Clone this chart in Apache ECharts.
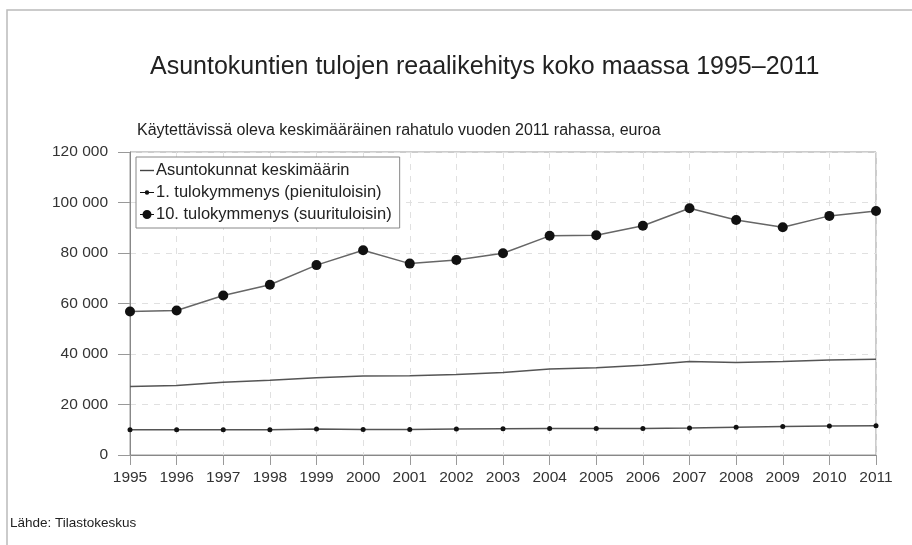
<!DOCTYPE html>
<html>
<head>
<meta charset="utf-8">
<script src="https://cdn.jsdelivr.net/npm/echarts@6/dist/echarts.min.js"></script>
<style>html,body{margin:0;padding:0;background:#fff}#c{width:912px;height:545px}</style>
</head>
<body>
<div id="c"></div>
<script>
var years = ['1995','1996','1997','1998','1999','2000','2001','2002','2003','2004','2005','2006','2007','2008','2009','2010','2011'];
var seriesNames = ['Asuntokunnat keskimäärin','1. tulokymmenys (pienituloisin)','10. tulokymmenys (suurituloisin)'];
var avgAll = [27100,27500,28800,29600,30600,31300,31400,31900,32700,34100,34600,35500,37000,36600,37000,37600,37900];
var decile1 = [10000,10000,10000,10000,10300,10100,10100,10300,10400,10500,10500,10500,10700,11000,11300,11500,11600];
var decile10 = [56800,57200,63200,67400,75200,81100,75800,77200,79900,86800,87000,90800,97700,93100,90200,94700,96600];
var titleText = 'Asuntokuntien tulojen reaalikehitys koko maassa 1995–2011';
var subtitleText = 'Käytettävissä oleva keskimääräinen rahatulo vuoden 2011 rahassa, euroa';
var sourceText = 'Lähde: Tilastokeskus';

var font = '"Liberation Sans", Arial, sans-serif';
var chart = echarts.init(document.getElementById('c'));
chart.setOption({
  animation: false,
  backgroundColor: '#fff',
  textStyle: {fontFamily: font},
  graphic: [
    {type: 'rect', shape: {x: 7, y: 10, width: 920, height: 600}, style: {fill: 'none', stroke: '#bbb', lineWidth: 1.5}, silent: true, z: -10},
    {type: 'text', left: 150, top: 55, style: {text: titleText, font: '25px ' + font, fill: '#222'}},
    {type: 'text', left: 137, top: 123, style: {text: subtitleText, font: '16px ' + font, fill: '#222'}},
    {type: 'text', left: 10, top: 516, style: {text: sourceText, font: '13.5px ' + font, fill: '#222'}}
  ],
  grid: {left: 130, right: 36, top: 152, bottom: 90, show: true, borderColor: '#999', borderWidth: 1, backgroundColor: 'transparent'},
  legend: {
    orient: 'vertical', left: 136, top: 157,
    symbolKeepAspect: true,
    data: [
      {name: seriesNames[0], icon: 'path://M0,0 L14,0 L14,1.4 L0,1.4 Z', itemStyle: {color: '#444'}},
      {name: seriesNames[1], icon: 'path://M0,1.4 L14,1.4 L14,2.6 L0,2.6 Z M9.2,2 A2.2,2.2 0 1,1 4.8,2 A2.2,2.2 0 1,1 9.2,2 Z'},
      {name: seriesNames[2], icon: 'path://M0,3.9 L14,3.9 L14,5.1 L0,5.1 Z M11.5,4.5 A4.5,4.5 0 1,1 2.5,4.5 A4.5,4.5 0 1,1 11.5,4.5 Z'}
    ],
    backgroundColor: '#fff', borderColor: '#888', borderWidth: 1,
    padding: [5, 8, 5, 4], itemGap: 5, itemWidth: 14, itemHeight: 12,
    textStyle: {fontSize: 16.5, color: '#222', fontFamily: font, padding: [0,0,0,-3]}
  },
  xAxis: {
    type: 'category', data: years, boundaryGap: false,
    axisLine: {lineStyle: {color: '#888'}},
    axisTick: {show: true, length: 10, lineStyle: {color: '#999'}},
    axisLabel: {fontSize: 15.5, color: '#333', margin: 15, fontFamily: font},
    splitLine: {show: true, lineStyle: {color: '#e0e0e0', type: [6, 6]}}
  },
  yAxis: {
    type: 'value', min: 0, max: 120000, interval: 20000,
    axisLine: {show: true, lineStyle: {color: '#888'}},
    axisTick: {show: true, length: 12, lineStyle: {color: '#999'}},
    axisLabel: {fontSize: 15.5, color: '#333', margin: 22, fontFamily: font,
      formatter: function (v) { return String(v).replace(/\B(?=(\d{3})+(?!\d))/g, ' '); }},
    splitLine: {show: true, lineStyle: {color: '#e0e0e0', type: [6, 6]}}
  },
  series: [
    {name: seriesNames[0], type: 'line', data: avgAll, symbol: 'none', showSymbol: false,
      lineStyle: {color: '#555', width: 1.5}, itemStyle: {color: '#555'}},
    {name: seriesNames[1], type: 'line', data: decile1, symbol: 'circle', symbolSize: 5,
      lineStyle: {color: '#555', width: 1.5}, itemStyle: {color: '#111'}},
    {name: seriesNames[2], type: 'line', data: decile10, symbol: 'circle', symbolSize: 10,
      lineStyle: {color: '#666', width: 1.5}, itemStyle: {color: '#111'}}
  ]
});
</script>
</body>
</html>
